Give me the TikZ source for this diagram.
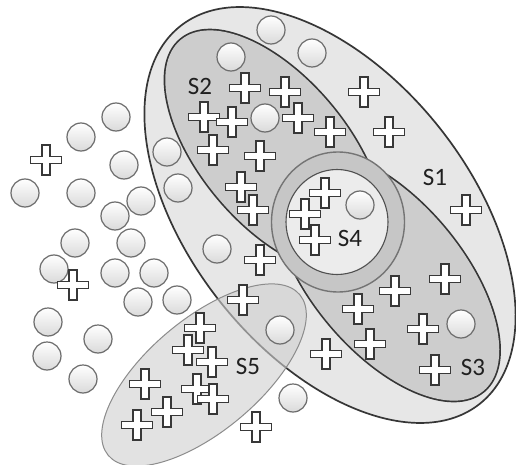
\documentclass[tikz,border=0pt]{standalone}
\usepackage{fontspec}
\setmainfont{Carlito}
\usetikzlibrary{shapes.geometric}
\definecolor{setline}{HTML}{363636}
\definecolor{sonefill}{HTML}{E7E7E7}
\definecolor{innerfill}{HTML}{CDCDCD}
\definecolor{ringfill}{HTML}{C6C6C6}
\definecolor{ringline}{HTML}{747474}
\definecolor{sfourfill}{HTML}{ECECEC}
\definecolor{sfourline}{HTML}{505050}
\definecolor{sfivefill}{HTML}{CFCFCF}
\definecolor{sfiveline}{HTML}{8C8C8C}
\definecolor{circline}{HTML}{6C6C6C}
\definecolor{circbot}{HTML}{DADADA}
\definecolor{crossline}{HTML}{383838}
\definecolor{labcol}{HTML}{202020}
\tikzset{
  setshape/.style={ellipse, inner sep=0pt, outer sep=0pt},
  dotnode/.style={circle, draw=circline, line width=1.2pt, minimum size=28pt, inner sep=0pt, top color=white, bottom color=circbot},
  crossbox/.style={draw=crossline, fill=white, line width=1.1pt, line join=miter},
  lab/.style={font=\fontsize{25}{30}\selectfont, text=labcol, inner sep=0pt},
  pluspic/.pic={\path[crossbox] (-4,-15) -- (4,-15) -- (4,-3.8) -- (15.5,-3.8) -- (15.5,3.8) -- (4,3.8) -- (4,15) -- (-4,15) -- (-4,3.8) -- (-15.5,3.8) -- (-15.5,-3.8) -- (-4,-3.8) -- cycle;}
}
\begin{document}
\begin{tikzpicture}[x=1pt, y=-1pt]
\fill[white] (0,0) rectangle (516,465);
\useasboundingbox (0,0) rectangle (516,465);
% S1
\node[setshape, fill=sonefill, draw=setline, line width=1.7pt, minimum width=482pt, minimum height=280pt, rotate=-51.6] (S1) at (330,215) {};
% S2 and S3: outlines first, fills on top (union outline)
\node[setshape, draw=setline, line width=3.4pt, minimum width=290pt, minimum height=146pt, rotate=-50] (S2) at (274,151) {};
\node[setshape, draw=setline, line width=3.4pt, minimum width=300pt, minimum height=150pt, rotate=-50] (S3) at (387,276) {};
\node[setshape, fill=innerfill, minimum width=290pt, minimum height=146pt, rotate=-50] (S2f) at (S2) {};
\node[setshape, fill=innerfill, minimum width=300pt, minimum height=150pt, rotate=-50] (S3f) at (S3) {};
% S4
\node[setshape, fill=ringfill, draw=ringline, line width=1.4pt, minimum width=133pt, minimum height=140pt] (S4ring) at (338,222) {};
\node[setshape, fill=sfourfill, draw=sfourline, line width=1.1pt, minimum width=102pt, minimum height=105pt] (S4) at (337,222) {};
% S5
\node[setshape, fill=sfivefill, fill opacity=0.6, draw=sfiveline, line width=1pt, minimum width=250pt, minimum height=112pt, rotate=40] (S5) at (204,375) {};
% circles
\node[dotnode] (o1) at (231,57) {};
\node[dotnode] (o2) at (271,30) {};
\node[dotnode] (o3) at (312,53) {};
\node[dotnode] (o4) at (265,118) {};
\node[dotnode] (o5) at (167,152) {};
\node[dotnode] (o6) at (178,188) {};
\node[dotnode] (o7) at (116,117) {};
\node[dotnode] (o8) at (81,137) {};
\node[dotnode] (o9) at (124,165) {};
\node[dotnode] (o10) at (25,193) {};
\node[dotnode] (o11) at (81,193) {};
\node[dotnode] (o12) at (141,201) {};
\node[dotnode] (o13) at (115,216) {};
\node[dotnode] (o14) at (131,243) {};
\node[dotnode] (o15) at (75,243) {};
\node[dotnode] (o16) at (54,269) {};
\node[dotnode] (o17) at (115,273) {};
\node[dotnode] (o18) at (154,273) {};
\node[dotnode] (o19) at (138,302) {};
\node[dotnode] (o20) at (177,300) {};
\node[dotnode] (o21) at (48,322) {};
\node[dotnode] (o22) at (98,339) {};
\node[dotnode] (o23) at (47,356) {};
\node[dotnode] (o24) at (83,379) {};
\node[dotnode] (o25) at (217,249) {};
\node[dotnode] (o26) at (280,330) {};
\node[dotnode] (o27) at (461,324) {};
\node[dotnode] (o28) at (293,398) {};
\node[dotnode] (o29) at (360,205) {};
% crosses
\pic (x1) at (46,160) {pluspic};
\pic (x2) at (73,285) {pluspic};
\pic (x3) at (245,88) {pluspic};
\pic (x4) at (285,92) {pluspic};
\pic (x5) at (204,117) {pluspic};
\pic (x6) at (232,122) {pluspic};
\pic (x7) at (298,118) {pluspic};
\pic (x8) at (330,132) {pluspic};
\pic (x9) at (364,92) {pluspic};
\pic (x10) at (389,132) {pluspic};
\pic (x11) at (213,150) {pluspic};
\pic (x12) at (260,156) {pluspic};
\pic (x13) at (241,187) {pluspic};
\pic (x14) at (253,210) {pluspic};
\pic (x15) at (325,193) {pluspic};
\pic (x16) at (305,214) {pluspic};
\pic (x17) at (315,240) {pluspic};
\pic (x18) at (466,210) {pluspic};
\pic (x19) at (260,260) {pluspic};
\pic (x20) at (243,300) {pluspic};
\pic (x21) at (395,291) {pluspic};
\pic (x22) at (445,279) {pluspic};
\pic (x23) at (358,309) {pluspic};
\pic (x24) at (423,329) {pluspic};
\pic (x25) at (370,344) {pluspic};
\pic (x26) at (326,354) {pluspic};
\pic (x27) at (435,370) {pluspic};
\pic (x28) at (200,328) {pluspic};
\pic (x29) at (188,350) {pluspic};
\pic (x30) at (212,362) {pluspic};
\pic (x31) at (145,384) {pluspic};
\pic (x32) at (197,389) {pluspic};
\pic (x33) at (213,399) {pluspic};
\pic (x34) at (167,412) {pluspic};
\pic (x35) at (137,425) {pluspic};
\pic (x36) at (256,427) {pluspic};
% labels
\node[lab] (L1) at (435,177) {S1};
\node[lab] (L2) at (200,86) {S2};
\node[lab] (L3) at (473,367) {S3};
\node[lab] (L4) at (350,238) {S4};
\node[lab] (L5) at (248,366) {S5};
\end{tikzpicture}
\end{document}
